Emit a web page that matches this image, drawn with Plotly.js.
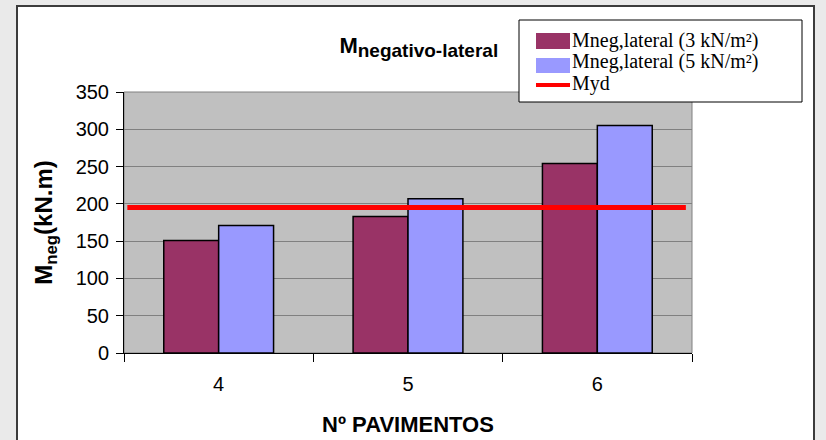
<!DOCTYPE html>
<html>
<head>
<meta charset="utf-8">
<script src="https://cdn.plot.ly/plotly-3.0.1.min.js"></script>
<style>
  html, body { margin: 0; padding: 0; background: #EAEAEA; width: 826px; height: 440px; overflow: hidden; }
  #card { position: absolute; left: 16px; top: 5px; width: 799px; height: 460px;
          background: #FFFFFF; border: 2px solid #3C3C3C; box-sizing: border-box; }
  #chart { position: absolute; left: 0; top: 0; width: 826px; height: 440px; }
</style>
</head>
<body>
<div id="card"></div>
<div id="chart"></div>
<script>
// Number of floors (categories)
const pavimentos = ['4', '5', '6'];
// Negative lateral moment for 3 kN/m² and 5 kN/m² loads (kN.m)
const mneg3 = [151, 183, 254];
const mneg5 = [171, 207, 305];
// Design resisting moment Myd (kN.m)
const myd = 195;

const seriesNames = ['Mneg,lateral (3 kN/m²)', 'Mneg,lateral (5 kN/m²)', 'Myd'];
const seriesColors = ['#993366', '#9999FF', '#FF0000'];

const W = 826, H = 440;
const M = { l: 124, r: 134, t: 92, b: 87 };
const pw = W - M.l - M.r, ph = H - M.t - M.b;
// pixel -> paper helpers for the hand-built legend box
const px = x => (x - M.l) / pw;
const py = y => (H - M.b - y) / ph;

const data = [
  { type: 'bar', x: pavimentos, y: mneg3, name: seriesNames[0],
    marker: { color: seriesColors[0], line: { color: '#000000', width: 1.5 } } },
  { type: 'bar', x: pavimentos, y: mneg5, name: seriesNames[1],
    marker: { color: seriesColors[1], line: { color: '#000000', width: 1.5 } } },
  { type: 'scatter', mode: 'lines', xaxis: 'x2', x: [0, 1], y: [myd, myd], name: seriesNames[2],
    line: { color: seriesColors[2], width: 5 } }
];

// Legend: swatches + labels
const shapes = [
  { type: 'rect', xref: 'paper', yref: 'paper', x0: 0, x1: 1, y0: 0, y1: 1,
    line: { color: '#808080', width: 1 }, layer: 'below' },
  { type: 'rect', xref: 'paper', yref: 'paper', x0: px(519), x1: px(802), y0: py(102), y1: py(20),
    fillcolor: '#FFFFFF', line: { color: '#000000', width: 1 } },
  { type: 'rect', xref: 'paper', yref: 'paper', x0: px(536), x1: px(570), y0: py(49), y1: py(33),
    fillcolor: seriesColors[0], line: { width: 0 } },
  { type: 'rect', xref: 'paper', yref: 'paper', x0: px(536), x1: px(570), y0: py(73), y1: py(58),
    fillcolor: seriesColors[1], line: { width: 0 } },
  { type: 'line', xref: 'paper', yref: 'paper', x0: px(536), x1: px(570), y0: py(85), y1: py(85),
    line: { color: seriesColors[2], width: 4 } }
];
const legendY = [40, 62, 84];
const annotations = seriesNames.map((n, i) => ({
  xref: 'paper', yref: 'paper', x: px(571), y: py(legendY[i]), xanchor: 'left', yanchor: 'middle',
  showarrow: false, text: n, borderpad: 0,
  font: { family: 'Liberation Serif, Times New Roman, serif', size: 20, color: '#000000' }
}));

const layout = {
  width: W, height: H,
  margin: M,
  paper_bgcolor: 'rgba(0,0,0,0)',
  plot_bgcolor: '#C0C0C0',
  showlegend: false,
  barmode: 'group',
  bargap: 0.42,
  bargroupgap: 0,
  font: { family: 'Liberation Sans, Arial, sans-serif', color: '#000000' },
  title: {
    text: 'M<sub><span style="font-size:19px">negativo-lateral</span></sub>',
    font: { family: 'Liberation Sans, Arial, sans-serif', size: 22, weight: 'bold', color: '#000000' },
    xref: 'paper', x: 0.519, xanchor: 'center',
    yref: 'container', y: 1 - 45 / H, yanchor: 'middle'
  },
  xaxis: {
    type: 'category',
    showline: true, linecolor: '#000000', linewidth: 1,
    ticks: 'outside', tickson: 'boundaries', ticklen: 8, tickcolor: '#000000',
    tickfont: { size: 20 }, ticklabelstandoff: 13,
    showgrid: false, zeroline: false,
    title: { text: 'Nº PAVIMENTOS', font: { size: 22, weight: 'bold' }, standoff: 22 }
  },
  xaxis2: {
    overlaying: 'x', range: [-0.006, 1.011], visible: false, fixedrange: true
  },
  yaxis: {
    range: [0, 350], dtick: 50,
    showline: true, linecolor: '#000000', linewidth: 1,
    ticks: 'outside', ticklen: 7, tickcolor: '#000000',
    tickfont: { size: 20 }, ticklabelstandoff: 3,
    showgrid: true, gridcolor: '#808080', gridwidth: 1,
    zeroline: false,
    title: { text: 'M<sub>neg</sub>(kN.m)', font: { size: 24, weight: 'bold' }, standoff: 16 }
  },
  shapes: shapes,
  annotations: annotations
};

Plotly.newPlot('chart', data, layout, { displayModeBar: false, staticPlot: true });
</script>
</body>
</html>
